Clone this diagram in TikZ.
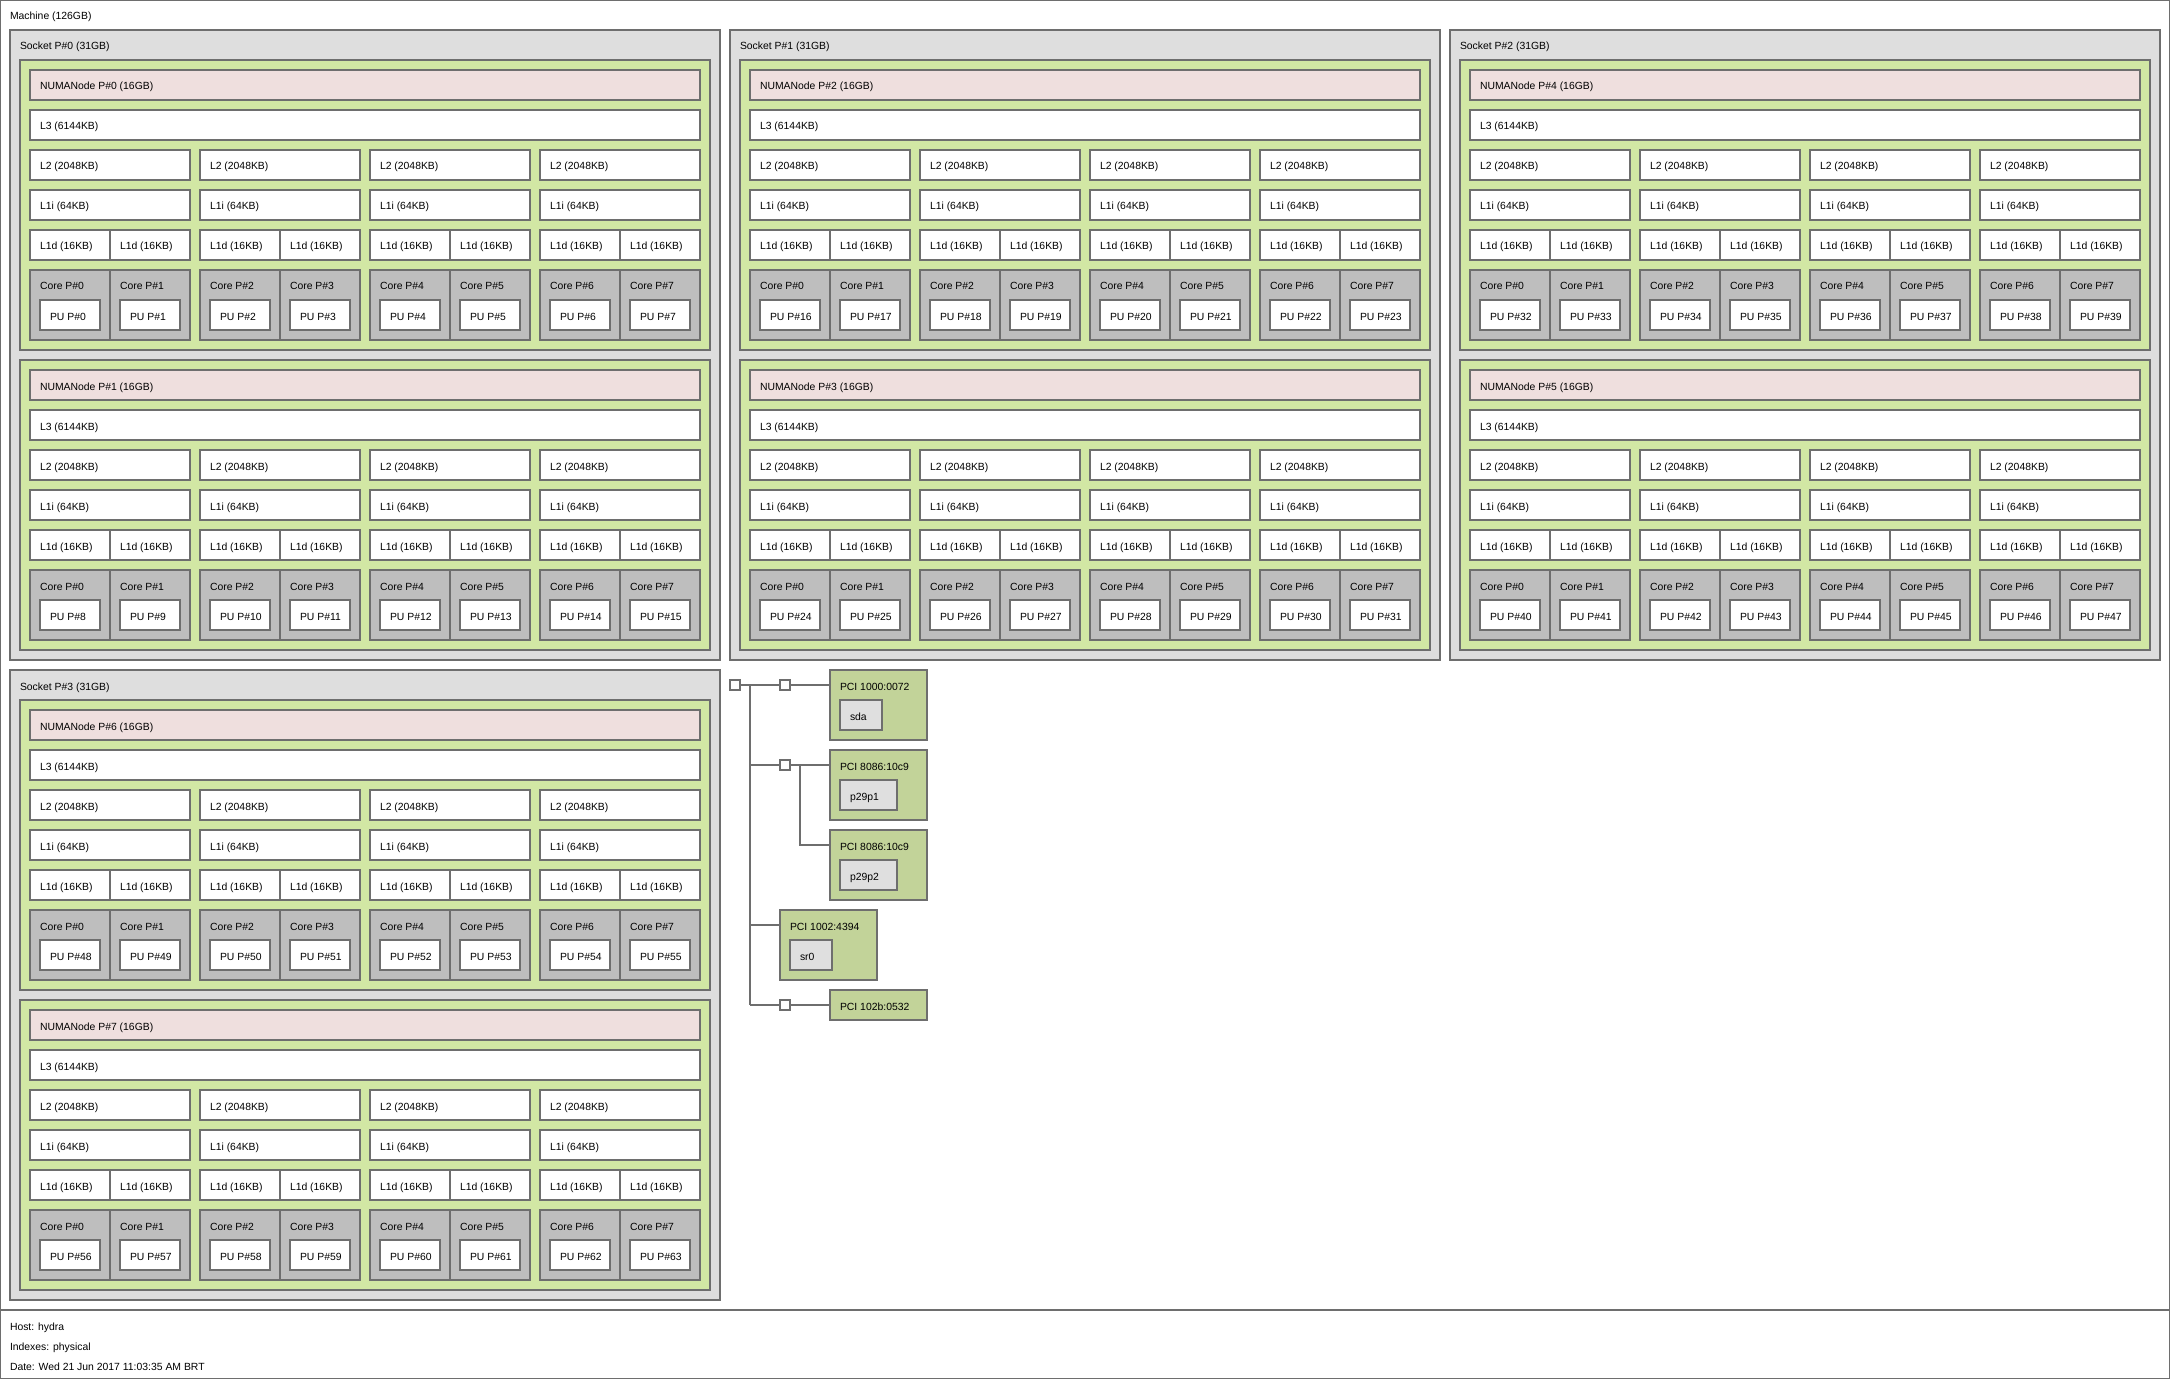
\documentclass[tikz,border=0pt]{standalone}
\usepackage{fontspec}
\setmainfont{Liberation Sans}
\usetikzlibrary{calc}
\definecolor{bord}{HTML}{6E6E6E}
\definecolor{sockc}{HTML}{DEDEDE}
\definecolor{numac}{HTML}{D2E7A4}
\definecolor{pinkc}{HTML}{EFDFDE}
\definecolor{corec}{HTML}{BEBEBE}
\definecolor{pcic}{HTML}{C2D399}
\definecolor{osc}{HTML}{DFDFDF}
\tikzset{
  box/.style={draw=bord, line width=1.2pt, rectangle, inner sep=0pt, outer sep=0pt, anchor=north west},
  lbl/.style={anchor=base west, inner sep=0pt, outer sep=0pt, font=\fontsize{10.4}{12}\selectfont, text=black},
  whitebox/.style={box, fill=white},
  sockbox/.style={box, fill=sockc},
  numabox/.style={box, fill=numac},
  pinkbox/.style={box, fill=pinkc},
  corebox/.style={box, fill=corec},
  pcibox/.style={box, fill=pcic},
  osbox/.style={box, fill=osc},
  conn/.style={draw=bord, line width=1.2pt},
}
% name, x, y, w, h, style, text
\newcommand\bx[7]{%
  \node[#6, minimum width=#4pt, minimum height=#5pt] (#1) at (#2,#3) {};
  \node[lbl] (#1-t) at ($(#1.north west)+(10,20)$) {#7};
}
\begin{document}
\begin{tikzpicture}[x=1pt,y=-1pt]
\useasboundingbox (0,0) rectangle (2170,1380);
% machine
\node[whitebox, minimum width=2168.8pt, minimum height=1309.4pt] (machine) at (0.6,0.6) {};
\node[lbl] (machine-t) at (10,20) {Machine (126GB)};
% sockets
\foreach \sk/\sx/\sy in {0/10/30, 1/730/30, 2/1450/30, 3/10/670}{
  \bx{s\sk}{\sx}{\sy}{710}{630}{sockbox}{Socket P\#\sk{} (31GB)}
  \foreach \k in {0,1}{
    \pgfmathtruncatemacro\nn{2*\sk+\k}
    \pgfmathtruncatemacro\nx{\sx+10}
    \pgfmathtruncatemacro\ny{\sy+30+300*\k}
    \pgfmathtruncatemacro\ix{\nx+10}
    \pgfmathtruncatemacro\ya{\ny+10}
    \pgfmathtruncatemacro\yb{\ny+50}
    \pgfmathtruncatemacro\yc{\ny+90}
    \pgfmathtruncatemacro\yd{\ny+130}
    \pgfmathtruncatemacro\ye{\ny+170}
    \pgfmathtruncatemacro\yf{\ny+210}
    \pgfmathtruncatemacro\yg{\ny+240}
    \bx{n\nn}{\nx}{\ny}{690}{290}{numabox}{}
    \bx{n\nn-mem}{\ix}{\ya}{670}{30}{pinkbox}{NUMANode P\#\nn{} (16GB)}
    \bx{n\nn-l3}{\ix}{\yb}{670}{30}{whitebox}{L3 (6144KB)}
    \foreach \G in {0,...,3}{
      \pgfmathtruncatemacro\gx{\ix+170*\G}
      \bx{n\nn-l2-\G}{\gx}{\yc}{160}{30}{whitebox}{L2 (2048KB)}
      \bx{n\nn-l1i-\G}{\gx}{\yd}{160}{30}{whitebox}{L1i (64KB)}
      \foreach \C in {0,1}{
        \pgfmathtruncatemacro\cx{\gx+80*\C}
        \pgfmathtruncatemacro\px{\cx+10}
        \pgfmathtruncatemacro\cj{2*\G+\C}
        \pgfmathtruncatemacro\pu{8*\nn+\cj}
        \bx{n\nn-l1d-\cj}{\cx}{\ye}{80}{30}{whitebox}{L1d (16KB)}
        \bx{n\nn-core-\cj}{\cx}{\yf}{80}{70}{corebox}{Core P\#\cj}
        \bx{pu\pu}{\px}{\yg}{60}{30}{whitebox}{PU P\#\pu}
      }
    }
  }
}
% PCI tree
\coordinate (tt) at (750,685);
\coordinate (tb) at (750,1005);
\coordinate (br2) at (800,765);
\coordinate (p3in) at (830,845);
\coordinate (p4in) at (780,925);
\draw[conn] (tt) -- (tb);
\draw[conn] (br2) |- (p3in);
\draw[conn] (p4in -| tt) -- (p4in);
\node[whitebox, minimum width=10pt, minimum height=10pt] (hb) at (730,680) {};
\node[whitebox, minimum width=10pt, minimum height=10pt] (b1) at (780,680) {};
\node[whitebox, minimum width=10pt, minimum height=10pt] (b2) at (780,760) {};
\node[whitebox, minimum width=10pt, minimum height=10pt] (b3) at (780,1000) {};
\bx{pci1}{830}{670}{97}{70}{pcibox}{PCI 1000:0072}
\bx{sda}{840}{700}{42}{30}{osbox}{sda}
\bx{pci2}{830}{750}{97}{70}{pcibox}{PCI 8086:10c9}
\bx{p29p1}{840}{780}{57}{30}{osbox}{p29p1}
\bx{pci3}{830}{830}{97}{70}{pcibox}{PCI 8086:10c9}
\bx{p29p2}{840}{860}{57}{30}{osbox}{p29p2}
\bx{pci4}{780}{910}{97}{70}{pcibox}{PCI 1002:4394}
\bx{sr0}{790}{940}{42}{30}{osbox}{sr0}
\bx{pci5}{830}{990}{97}{30}{pcibox}{PCI 102b:0532}
\draw[conn] (hb.east) -- (b1.west);
\draw[conn] (b1.east) -- (b1.east -| pci1.west);
\draw[conn] (b2.west -| tt) -- (b2.west);
\draw[conn] (b2.east) -- (b2.east -| pci2.west);
\draw[conn] (b3.west -| tt) -- (b3.west);
\draw[conn] (b3.east) -- (b3.east -| pci5.west);
% legend
\node[whitebox, minimum width=2168.8pt, minimum height=68.8pt] (legend) at (0.6,1310) {};
\node[lbl] (host) at (10,1330) {Host: hydra};
\node[lbl] (idx) at (10,1350) {Indexes: physical};
\node[lbl] (date) at (10,1370) {Date: Wed 21 Jun 2017 11:03:35 AM BRT};
\end{tikzpicture}
\end{document}
